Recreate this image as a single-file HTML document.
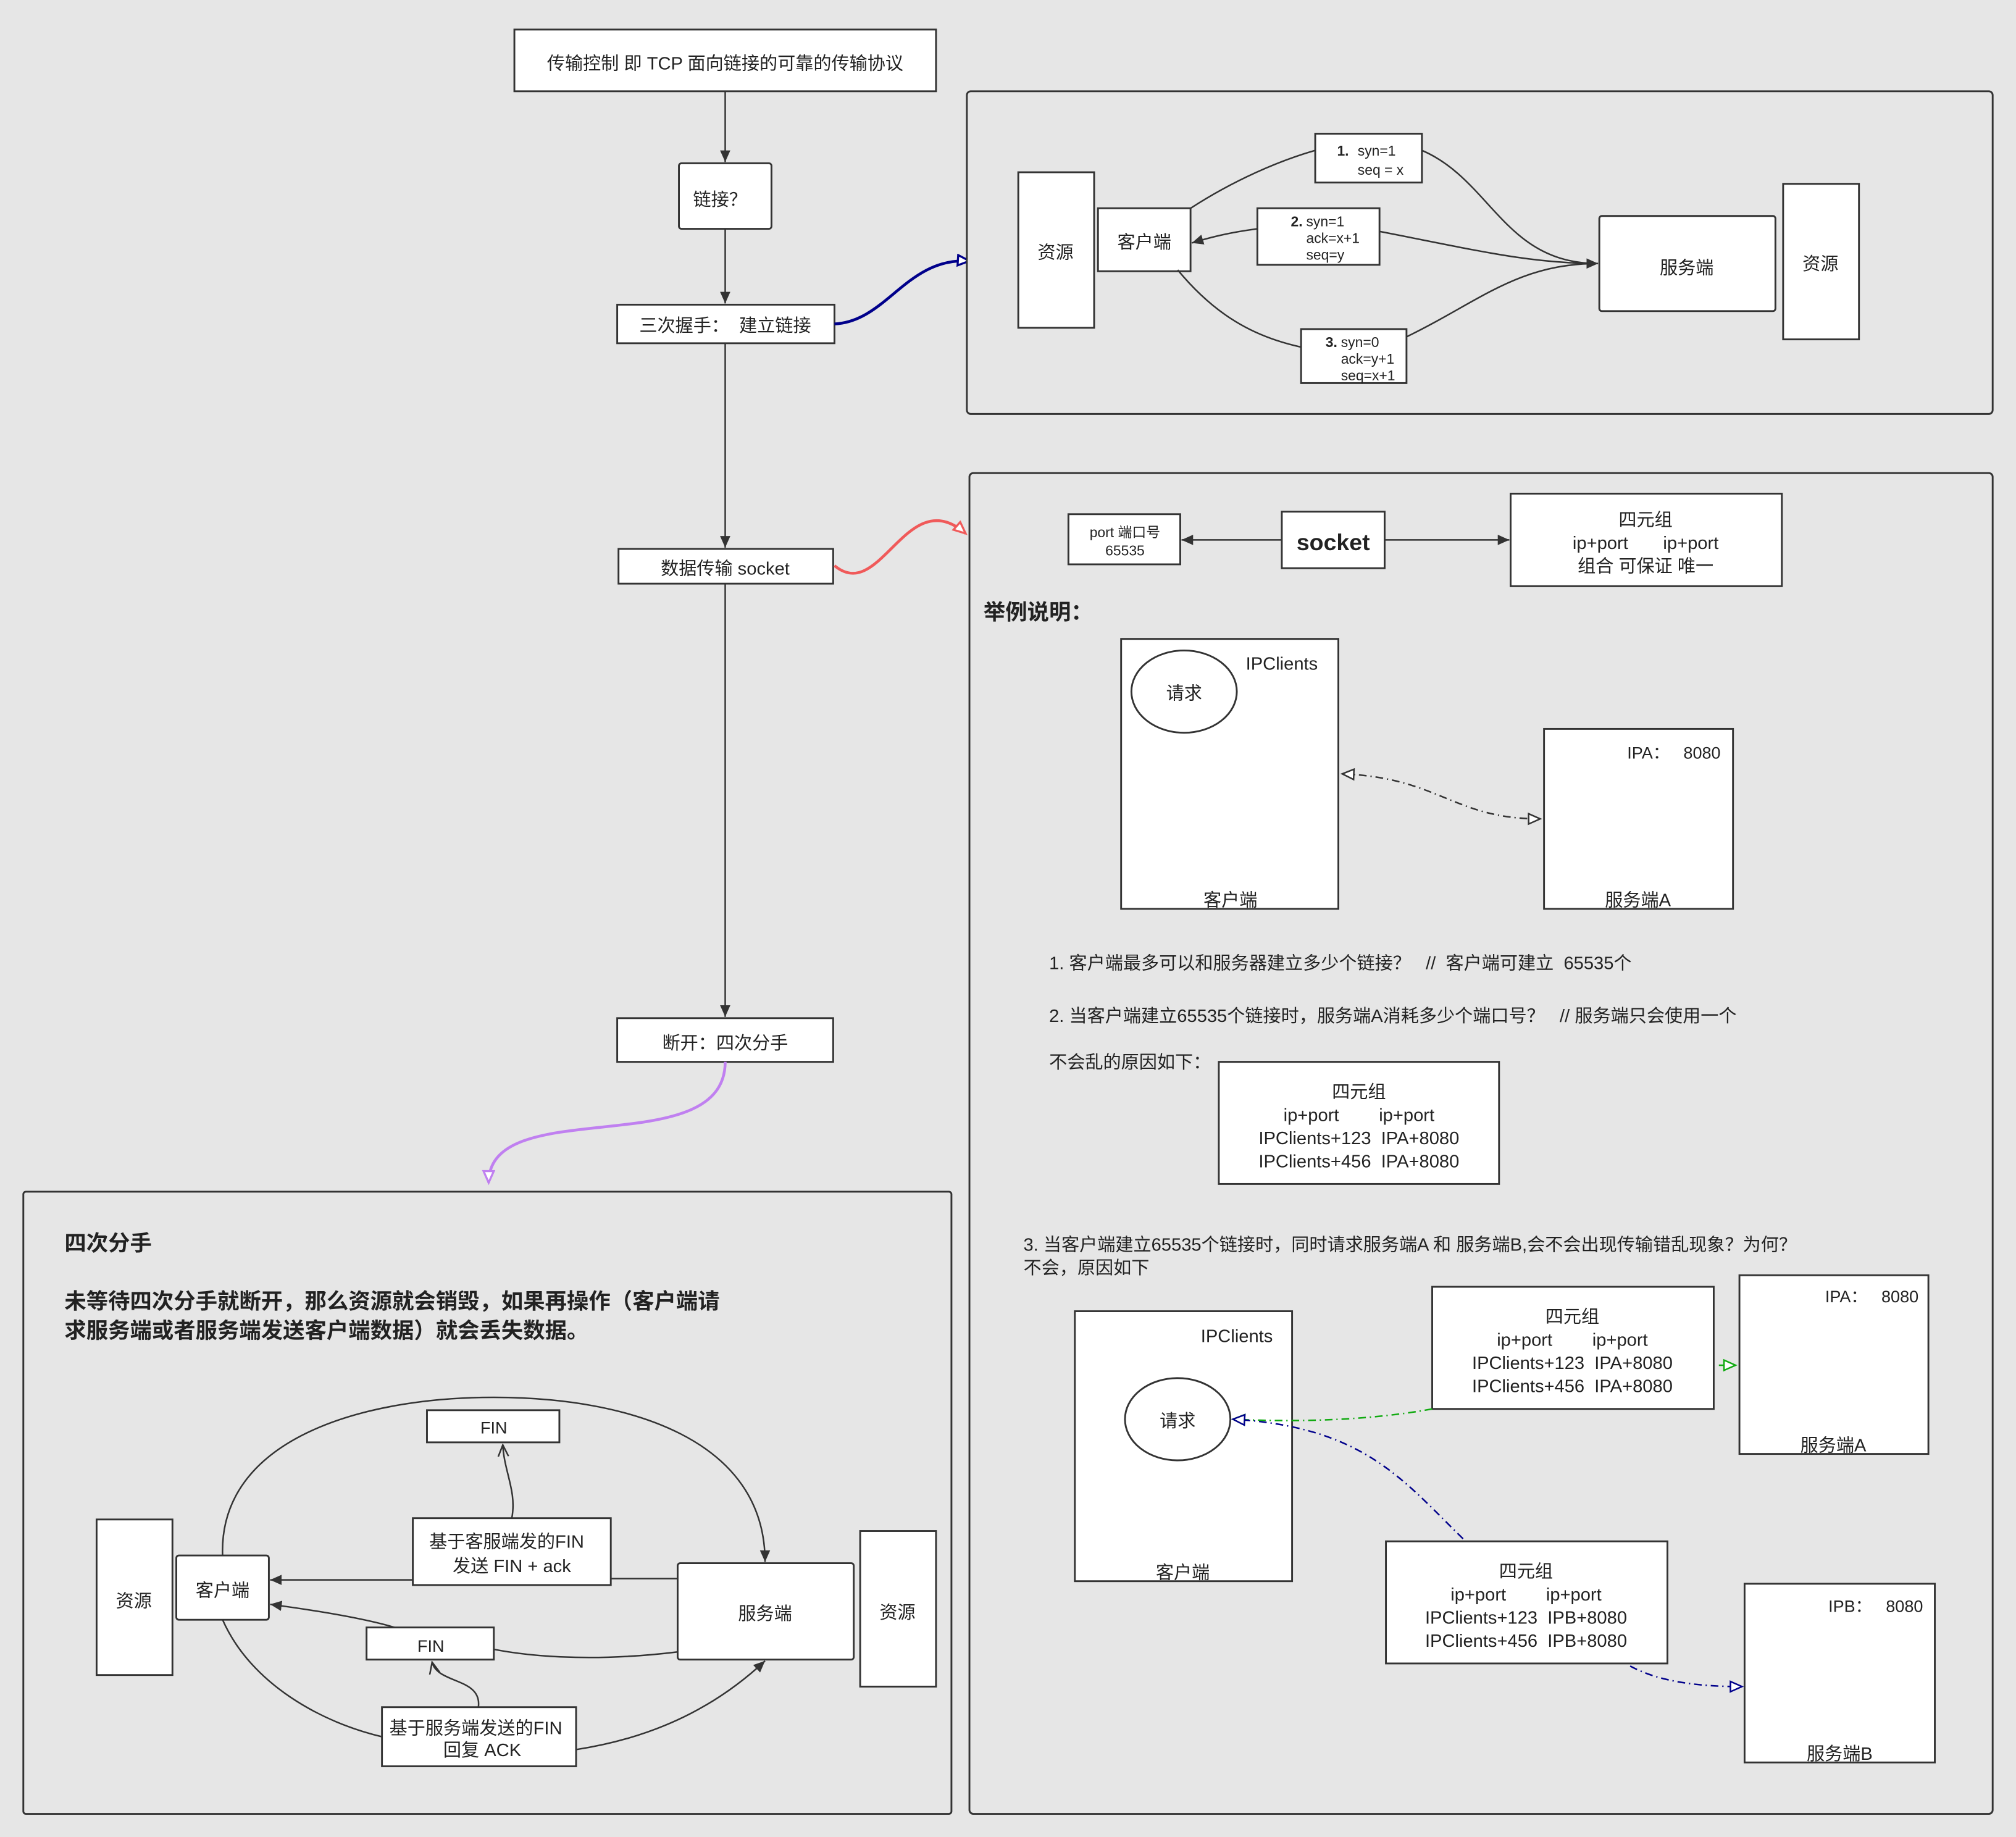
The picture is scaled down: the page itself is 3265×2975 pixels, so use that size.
<!DOCTYPE html>
<html><head><meta charset="utf-8"><style>
html,body{margin:0;padding:0;background:#e6e6e6;}
svg{display:block}
text{font-family:"Liberation Sans","Noto Sans CJK SC",sans-serif;fill:#222;white-space:pre;}
.b{fill:#fff;stroke:#333;stroke-width:1.4}
.p{fill:#e6e6e6;stroke:#333;stroke-width:1.4}
.l{fill:none;stroke:#333;stroke-width:1.2}
</style></head><body>
<svg width="3265" height="2975" viewBox="0 0 1568 1429" xmlns="http://www.w3.org/2000/svg" xml:space="preserve">
<defs>
<marker id="a" markerWidth="10" markerHeight="10" refX="9" refY="5" orient="auto" markerUnits="userSpaceOnUse"><path d="M0,1 L9,5 L0,9 Z" fill="#333"/></marker>
<marker id="o" markerWidth="10" markerHeight="10" refX="9" refY="5" orient="auto" markerUnits="userSpaceOnUse"><path d="M0,1 L9,5 L0,9" fill="none" stroke="#333" stroke-width="1.2"/></marker>
<marker id="t" markerWidth="12" markerHeight="12" refX="10" refY="5" orient="auto-start-reverse" markerUnits="userSpaceOnUse"><path d="M1,1 L10,5 L1,9 Z" fill="#fff" stroke="#333" stroke-width="1.2"/></marker>
<marker id="tb" markerWidth="12" markerHeight="12" refX="10" refY="5" orient="auto" markerUnits="userSpaceOnUse"><path d="M1,1 L10,5 L1,9 Z" fill="#fff" stroke="#00008b" stroke-width="1.6"/></marker>
<marker id="tr" markerWidth="12" markerHeight="12" refX="10" refY="5" orient="auto" markerUnits="userSpaceOnUse"><path d="M1,1 L10,5 L1,9 Z" fill="#fff" stroke="#f05a5a" stroke-width="1.6"/></marker>
<marker id="tp" markerWidth="12" markerHeight="12" refX="10" refY="5" orient="auto" markerUnits="userSpaceOnUse"><path d="M1,1 L10,5 L1,9 Z" fill="#fff" stroke="#c080f0" stroke-width="1.6"/></marker>
<marker id="tg" markerWidth="12" markerHeight="12" refX="10" refY="5" orient="auto" markerUnits="userSpaceOnUse"><path d="M1,1 L10,5 L1,9 Z" fill="#fff" stroke="#1a1" stroke-width="1.2"/></marker>
<marker id="tbb" markerWidth="12" markerHeight="12" refX="10" refY="5" orient="auto" markerUnits="userSpaceOnUse"><path d="M1,1 L10,5 L1,9 Z" fill="#fff" stroke="#00008b" stroke-width="1.2"/></marker>
</defs>
<rect width="1568" height="1429" fill="#e6e6e6"/>

<rect class="b" x="400" y="23" width="328" height="48"/>
<text x="564" y="54" font-size="14" text-anchor="middle">传输控制 即 TCP 面向链接的可靠的传输协议</text>
<path class="l" d="M564,71 L564,126" marker-end="url(#a)"/>
<rect class="b" x="528" y="127" width="72" height="51" rx="2"/>
<text x="560" y="160" font-size="14" text-anchor="middle">链接？</text>
<path class="l" d="M564,178 L564,236" marker-end="url(#a)"/>
<rect class="b" x="480" y="237" width="169" height="30"/>
<text x="564" y="258" font-size="14" text-anchor="middle">三次握手：  建立链接</text>
<path class="l" d="M564,267 L564,426" marker-end="url(#a)"/>
<rect class="b" x="481" y="427" width="167" height="27"/>
<text x="564" y="447" font-size="14" text-anchor="middle">数据传输 socket</text>
<path class="l" d="M564,454 L564,791" marker-end="url(#a)"/>
<rect class="b" x="480" y="792" width="168" height="34"/>
<text x="564" y="816" font-size="14" text-anchor="middle">断开：四次分手</text>

<path d="M649,252 C690,250 705,200 754,203" fill="none" stroke="#00008b" stroke-width="2.2" marker-end="url(#tb)"/>
<path d="M649,440 C685,470 705,375 751,415" fill="none" stroke="#f05a5a" stroke-width="2.2" marker-end="url(#tr)"/>
<path d="M564,826 C564,905 380,850 380,920" fill="none" stroke="#c080f0" stroke-width="2.2" marker-end="url(#tp)"/>

<rect class="p" x="752" y="71" width="798" height="251" rx="3"/>
<rect class="b" x="792" y="134" width="59" height="121"/>
<text x="821" y="201" font-size="14" text-anchor="middle">资源</text>
<rect class="b" x="854" y="162" width="72" height="49"/>
<text x="890" y="193" font-size="14" text-anchor="middle">客户端</text>
<rect class="b" x="1244" y="168" width="137" height="74" rx="2"/>
<text x="1312" y="213" font-size="14" text-anchor="middle">服务端</text>
<rect class="b" x="1387" y="143" width="59" height="121"/>
<text x="1416" y="210" font-size="14" text-anchor="middle">资源</text>
<rect class="b" x="1023" y="104" width="83" height="38"/>
<text font-size="11"><tspan x="1040" y="121" font-weight="bold">1.</tspan><tspan x="1056" y="121">syn=1</tspan><tspan x="1056" y="136">seq = x</tspan></text>
<rect class="b" x="978" y="162" width="95" height="44"/>
<text font-size="11"><tspan x="1004" y="176" font-weight="bold">2.</tspan><tspan x="1016" y="176">syn=1</tspan><tspan x="1016" y="189">ack=x+1</tspan><tspan x="1016" y="202">seq=y</tspan></text>
<rect class="b" x="1012" y="256" width="82" height="42"/>
<text font-size="11"><tspan x="1031" y="270" font-weight="bold">3.</tspan><tspan x="1043" y="270">syn=0</tspan><tspan x="1043" y="283">ack=y+1</tspan><tspan x="1043" y="296">seq=x+1</tspan></text>
<path class="l" d="M926,162 C960,140 995,125 1023,117"/>
<path class="l" d="M1106,117 C1160,140 1170,205 1243,205" marker-end="url(#a)"/>
<path class="l" d="M1073,180 C1150,195 1190,205 1243,205" marker-end="url(#a)"/>
<path class="l" d="M978,178 C955,181 940,185 927,189" marker-end="url(#a)"/>
<path class="l" d="M916,210 C945,245 975,262 1012,270"/>
<path class="l" d="M1094,262 C1150,235 1180,205 1243,205"/>

<rect class="p" x="754" y="368" width="796" height="1043" rx="3"/>
<rect class="b" x="831" y="400" width="87" height="39"/>
<text x="875" y="418" font-size="11" text-anchor="middle">port 端口号</text>
<text x="875" y="432" font-size="11" text-anchor="middle">65535</text>
<rect class="b" x="997" y="398" width="80" height="44"/>
<text x="1037" y="428" font-size="18" font-weight="bold" text-anchor="middle">socket</text>
<rect class="b" x="1175" y="384" width="211" height="72"/>
<text font-size="14" text-anchor="middle"><tspan x="1280" y="409">四元组</tspan><tspan x="1280" y="427">ip+port       ip+port</tspan><tspan x="1280" y="445">组合 可保证 唯一</tspan></text>
<path class="l" d="M997,420 L919,420" marker-end="url(#a)"/>
<path class="l" d="M1077,420 L1174,420" marker-end="url(#a)"/>
<text x="765" y="482" font-size="17" font-weight="bold">举例说明：</text>

<rect class="b" x="872" y="497" width="169" height="210"/>
<ellipse cx="921" cy="538" rx="41" ry="32" fill="#fff" stroke="#333" stroke-width="1.4"/>
<text x="921" y="544" font-size="14" text-anchor="middle">请求</text>
<text x="997" y="521" font-size="14" text-anchor="middle">IPClients</text>
<text x="957" y="705" font-size="14" text-anchor="middle">客户端</text>
<rect class="b" x="1201" y="567" width="147" height="140"/>
<text x="1302" y="590" font-size="13" text-anchor="middle">IPA：   8080</text>
<text x="1274" y="705" font-size="14" text-anchor="middle">服务端A</text>
<path class="l" d="M1044,602 C1120,605 1130,637 1198,637" stroke-dasharray="6,3,1,3" marker-start="url(#t)" marker-end="url(#t)"/>

<text x="816" y="754" font-size="14">1. 客户端最多可以和服务器建立多少个链接？   //  客户端可建立  65535个</text>
<text x="816" y="795" font-size="14">2. 当客户端建立65535个链接时，服务端A消耗多少个端口号？   // 服务端只会使用一个</text>
<text x="816" y="831" font-size="14">不会乱的原因如下：</text>
<rect class="b" x="948" y="826" width="218" height="95"/>
<text font-size="14" text-anchor="middle"><tspan x="1057" y="854">四元组</tspan><tspan x="1057" y="872">ip+port        ip+port</tspan><tspan x="1057" y="890">IPClients+123  IPA+8080</tspan><tspan x="1057" y="908">IPClients+456  IPA+8080</tspan></text>

<text x="796" y="973" font-size="14">3. 当客户端建立65535个链接时，同时请求服务端A 和 服务端B,会不会出现传输错乱现象？为何？</text>
<text x="796" y="991" font-size="14">不会，原因如下</text>

<rect class="b" x="836" y="1020" width="169" height="210"/>
<ellipse cx="916" cy="1104" rx="41" ry="32" fill="#fff" stroke="#333" stroke-width="1.4"/>
<text x="916" y="1110" font-size="14" text-anchor="middle">请求</text>
<text x="962" y="1044" font-size="14" text-anchor="middle">IPClients</text>
<text x="920" y="1228" font-size="14" text-anchor="middle">客户端</text>

<rect class="b" x="1114" y="1001" width="219" height="95"/>
<text font-size="14" text-anchor="middle"><tspan x="1223" y="1029">四元组</tspan><tspan x="1223" y="1047">ip+port        ip+port</tspan><tspan x="1223" y="1065">IPClients+123  IPA+8080</tspan><tspan x="1223" y="1083">IPClients+456  IPA+8080</tspan></text>
<rect class="b" x="1353" y="992" width="147" height="139"/>
<text x="1456" y="1013" font-size="13" text-anchor="middle">IPA：   8080</text>
<text x="1426" y="1129" font-size="14" text-anchor="middle">服务端A</text>

<rect class="b" x="1078" y="1199" width="219" height="95"/>
<text font-size="14" text-anchor="middle"><tspan x="1187" y="1227">四元组</tspan><tspan x="1187" y="1245">ip+port        ip+port</tspan><tspan x="1187" y="1263">IPClients+123  IPB+8080</tspan><tspan x="1187" y="1281">IPClients+456  IPB+8080</tspan></text>
<rect class="b" x="1357" y="1232" width="148" height="139"/>
<text x="1459" y="1254" font-size="13" text-anchor="middle">IPB：   8080</text>
<text x="1431" y="1369" font-size="14" text-anchor="middle">服务端B</text>

<path d="M1114,1096 C1060,1106 1000,1106 959,1104" fill="none" stroke="#1a1" stroke-width="1.2" stroke-dasharray="6,3,1,3" marker-end="url(#tg)"/>
<path d="M1337,1062 L1350,1062" fill="none" stroke="#1a1" stroke-width="1.2" marker-end="url(#tg)"/>
<path d="M1138,1197 C1090,1150 1060,1110 959,1104" fill="none" stroke="#00008b" stroke-width="1.2" stroke-dasharray="6,3,1,3" marker-end="url(#tbb)"/>
<path d="M1268,1296 C1290,1308 1320,1312 1355,1312" fill="none" stroke="#00008b" stroke-width="1.2" stroke-dasharray="6,3,1,3" marker-end="url(#tbb)"/>

<rect class="p" x="18" y="927" width="722" height="484" rx="2"/>
<text x="50" y="973" font-size="17" font-weight="bold">四次分手</text>
<text x="50" y="1018" font-size="17" font-weight="bold">未等待四次分手就断开，那么资源就会销毁，如果再操作（客户端请</text>
<text x="50" y="1041" font-size="17" font-weight="bold">求服务端或者服务端发送客户端数据）就会丢失数据。</text>

<rect class="b" x="75" y="1182" width="59" height="121"/>
<text x="104" y="1250" font-size="14" text-anchor="middle">资源</text>
<rect class="b" x="137" y="1210" width="72" height="50" rx="2"/>
<text x="173" y="1242" font-size="14" text-anchor="middle">客户端</text>
<rect class="b" x="527" y="1216" width="137" height="75" rx="2"/>
<text x="595" y="1260" font-size="14" text-anchor="middle">服务端</text>
<rect class="b" x="669" y="1191" width="59" height="121"/>
<text x="698" y="1259" font-size="14" text-anchor="middle">资源</text>
<rect class="b" x="332" y="1097" width="103" height="25"/>
<text x="384" y="1115" font-size="13" text-anchor="middle">FIN</text>
<rect class="b" x="321" y="1181" width="154" height="52"/>
<text x="394" y="1204" font-size="14" text-anchor="middle">基于客服端发的FIN</text>
<text x="398" y="1223" font-size="14" text-anchor="middle">发送 FIN + ack</text>
<rect class="b" x="285" y="1266" width="99" height="25"/>
<text x="335" y="1285" font-size="13" text-anchor="middle">FIN</text>
<rect class="b" x="297" y="1328" width="151" height="46"/>
<text x="370" y="1349" font-size="14" text-anchor="middle">基于服务端发送的FIN</text>
<text x="375" y="1366" font-size="14" text-anchor="middle">回复 ACK</text>

<path class="l" d="M173,1210 C170,1120 280,1087 384,1087 C490,1087 595,1120 595,1215" marker-end="url(#a)"/>
<path class="l" d="M527,1228 L475,1228"/>
<path class="l" d="M321,1229 L210,1229" marker-end="url(#a)"/>
<path class="l" d="M398,1181 C402,1160 392,1145 391,1124" marker-end="url(#o)"/>
<path class="l" d="M527,1285 C470,1292 420,1290 384,1283"/>
<path class="l" d="M307,1266 C280,1258 240,1252 210,1248" marker-end="url(#a)"/>
<path class="l" d="M372,1328 C375,1305 340,1310 336,1293" marker-end="url(#o)"/>
<path class="l" d="M173,1260 C195,1310 250,1340 297,1351"/>
<path class="l" d="M448,1361 C520,1350 565,1320 595,1292" marker-end="url(#a)"/>
</svg>
</body></html>
